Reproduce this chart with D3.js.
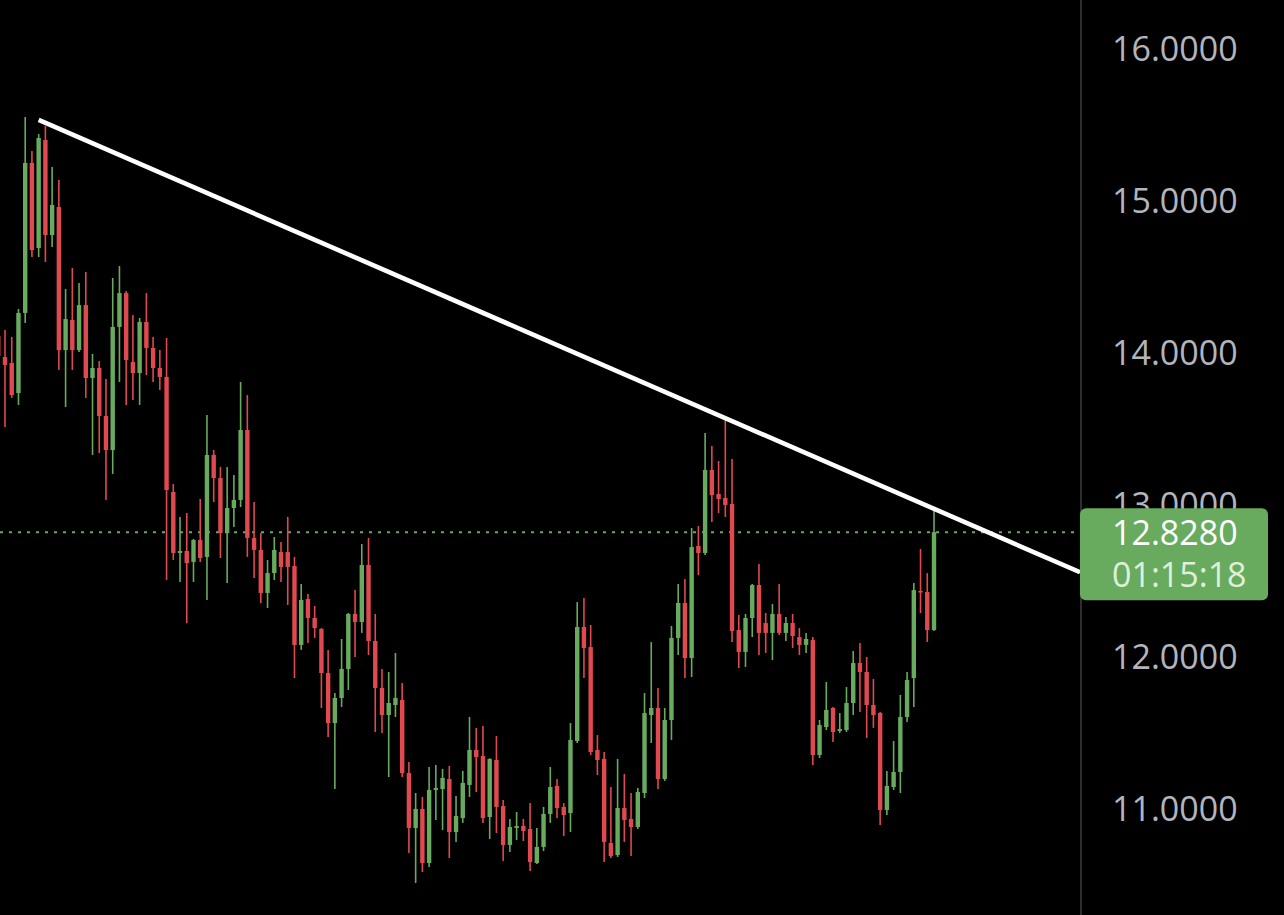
<!DOCTYPE html>
<html><head><meta charset="utf-8">
<script src="https://cdn.jsdelivr.net/npm/d3@7"></script>
<style>html,body{margin:0;padding:0;background:#000;overflow:hidden}</style>
</head><body>
<svg id="chart" width="1284" height="915"></svg>
<script>
const open = [14.118,13.980,13.941,13.743,14.270,15.257,14.697,15.408,14.783,14.967,14.026,14.224,14.026,14.322,13.842,13.908,13.592,13.368,14.178,14.401,13.947,13.875,14.211,14.040,13.908,13.849,13.092,12.691,12.704,12.632,12.776,12.665,13.336,13.184,12.822,12.987,13.040,13.500,12.790,12.711,12.428,12.559,12.697,12.697,12.605,12.086,12.388,12.263,12.191,11.901,11.572,11.737,11.928,12.290,12.237,12.612,12.112,11.803,11.625,11.691,11.724,11.243,10.882,11.007,10.651,11.132,11.138,11.204,10.855,10.947,11.165,11.395,11.355,10.954,11.329,11.026,10.770,10.882,10.895,10.875,10.651,10.757,10.974,11.158,11.020,10.980,11.454,12.204,12.072,11.395,11.336,10.783,10.704,11.013,10.941,10.888,11.112,11.625,11.671,11.204,11.592,12.132,12.362,12.000,12.737,12.691,13.237,13.079,13.053,13.013,12.184,12.040,12.263,12.480,12.230,12.165,12.290,12.165,12.230,12.138,12.086,12.118,11.362,11.546,11.671,11.520,11.526,11.704,11.967,11.908,11.691,11.638,11.000,11.151,11.250,11.612,11.868,12.441,12.434,12.184];
const high = [14.158,14.158,14.112,14.296,15.559,15.336,15.447,15.500,15.230,15.145,14.428,14.566,14.467,14.540,14.000,13.954,13.836,14.500,14.579,14.415,14.257,14.237,14.401,14.112,14.026,14.105,13.145,12.928,12.954,12.783,13.046,13.599,13.368,13.257,13.257,13.204,13.816,13.730,13.026,12.822,12.645,12.796,12.763,12.928,12.665,12.487,12.421,12.342,12.197,12.053,11.770,12.125,12.296,12.447,12.750,12.790,12.290,11.928,11.908,12.033,11.836,11.316,11.112,11.086,11.283,11.296,11.270,11.290,11.092,11.257,11.612,11.540,11.553,11.340,11.487,11.066,10.941,10.987,10.941,11.046,10.882,11.020,11.283,11.204,11.046,11.572,12.368,12.395,12.217,11.493,11.382,11.151,11.336,11.237,11.112,11.145,11.770,12.105,11.803,11.671,12.211,12.487,12.520,12.855,12.868,13.480,13.395,13.296,13.572,13.309,12.283,12.290,12.487,12.618,12.296,12.355,12.487,12.270,12.290,12.197,12.165,12.138,11.592,11.842,11.678,11.638,11.809,12.046,12.099,12.007,11.862,11.645,11.257,11.454,11.757,11.908,12.493,12.717,12.559,12.967];
const low = [13.882,13.520,13.711,13.665,14.204,14.638,14.638,14.605,14.704,13.895,13.651,13.895,14.013,13.711,13.336,13.349,13.040,13.211,13.816,13.665,13.697,13.665,13.862,13.816,13.763,12.513,12.645,12.500,12.230,12.500,12.632,12.382,13.026,12.658,12.493,12.862,12.993,12.665,12.526,12.362,12.329,12.513,12.500,12.349,11.868,12.053,12.099,12.132,11.671,11.480,11.138,11.678,11.790,12.007,12.165,12.020,11.513,11.507,11.217,11.612,11.217,10.717,10.520,10.592,10.625,10.934,10.868,10.684,10.790,10.915,11.086,11.118,10.915,10.809,10.849,10.665,10.724,10.803,10.796,10.599,10.645,10.730,10.915,10.947,10.829,10.855,11.441,11.868,11.362,11.230,10.658,10.684,10.691,10.790,10.697,10.875,11.079,11.441,11.138,11.191,11.461,12.020,11.868,11.875,12.546,12.678,12.895,12.954,12.928,12.105,11.934,11.941,12.138,12.020,12.033,11.987,12.151,12.112,12.066,12.020,12.033,11.296,11.342,11.526,11.447,11.507,11.513,11.625,11.645,11.474,11.540,10.901,10.967,11.132,11.112,11.579,11.678,12.296,12.105,12.178];
const close = [13.987,13.928,13.730,14.270,15.257,14.684,15.421,14.783,14.980,14.026,14.230,14.026,14.322,13.842,13.908,13.592,13.368,14.178,14.401,13.961,13.875,14.211,14.040,13.908,13.849,13.105,12.691,12.704,12.625,12.776,12.658,13.336,13.184,12.822,12.987,13.040,13.500,12.790,12.711,12.428,12.559,12.711,12.599,12.599,12.086,12.382,12.263,12.197,11.901,11.572,11.737,11.928,12.290,12.237,12.612,12.112,11.803,11.625,11.704,11.737,11.243,10.882,11.007,10.651,11.132,11.145,11.211,10.855,10.961,11.178,11.395,11.349,10.947,11.336,11.020,10.770,10.888,10.895,10.862,10.658,10.757,10.974,11.151,11.013,10.967,11.461,12.204,12.066,11.382,11.329,10.790,10.697,11.013,10.934,10.888,11.118,11.638,11.671,11.204,11.592,12.132,12.362,12.000,12.730,12.691,13.237,13.072,13.046,13.007,12.178,12.040,12.263,12.480,12.165,12.165,12.290,12.165,12.230,12.145,12.086,12.125,11.362,11.559,11.658,11.513,11.533,11.704,11.967,11.908,11.691,11.625,11.000,11.158,11.250,11.612,11.855,12.447,12.434,12.184,12.828];

const tickValues = [11, 12, 13, 14, 15, 16];
const tickLabels = ["11.0000", "12.0000", "13.0000", "14.0000", "15.0000", "16.0000"];
const trendAnchors = [{i: 6, p: 15.54}, {i: 108, p: 13.578}];
const lastPriceLabel = "12.8280";
const countdownLabel = "01:15:18";

const W = 1284, H = 915, plotRight = 1080;
const GREEN = "#68ab5e", RED = "#e0494f";
const FONT = "'Open Sans', sans-serif";
const svg = d3.select("#chart");
svg.append("rect").attr("width", W).attr("height", H).attr("fill", "#000");

const x = d3.scaleLinear().domain([1, 139]).range([5, 934]);
const y = d3.scaleLinear().domain([11, 16]).range([810, 50]);

const data = open.map((o, i) => ({i, o, h: high[i], l: low[i], c: close[i]}));

svg.append("defs").append("clipPath").attr("id", "plot")
  .append("rect").attr("x", 0).attr("y", 0).attr("width", plotRight).attr("height", H);
const plot = svg.append("g").attr("clip-path", "url(#plot)");

// last price dotted line
const last = close[close.length - 1];
plot.append("line")
  .attr("x1", 0).attr("x2", plotRight)
  .attr("y1", y(last)).attr("y2", y(last))
  .attr("stroke", GREEN).attr("stroke-width", 2).attr("stroke-dasharray", "3,6");

const bodyW = 4.4;
const g = plot.selectAll("g.candle").data(data).join("g").attr("class", "candle")
  .attr("fill", d => d.c >= d.o ? GREEN : RED)
  .attr("stroke", d => d.c >= d.o ? GREEN : RED);
g.append("line")
  .attr("x1", d => x(d.i)).attr("x2", d => x(d.i))
  .attr("y1", d => y(d.h)).attr("y2", d => y(d.l))
  .attr("stroke-width", 1.6);
g.append("rect")
  .attr("x", d => x(d.i) - bodyW / 2).attr("width", bodyW)
  .attr("y", d => y(Math.max(d.o, d.c)))
  .attr("height", d => Math.max(1.5, Math.abs(y(d.o) - y(d.c))))
  .attr("stroke", "none");

// trend line extended to the right edge
const [a, b] = trendAnchors;
const slope = (b.p - a.p) / (b.i - a.i);
const iEnd = x.invert(plotRight);
plot.append("line")
  .attr("x1", x(a.i)).attr("y1", y(a.p))
  .attr("x2", x(iEnd)).attr("y2", y(a.p + slope * (iEnd - a.i)))
  .attr("stroke", "#fff").attr("stroke-width", 4.6);

// axis separator
svg.append("line").attr("x1", 1081).attr("x2", 1081).attr("y1", 0).attr("y2", H)
  .attr("stroke", "#2e2e2e").attr("stroke-width", 2);

// y axis labels
const axis = d3.axisRight(y).tickValues(tickValues)
  .tickFormat((d, k) => tickLabels[k]).tickSize(0).tickPadding(0);
const ax = svg.append("g").attr("transform", "translate(1112,0)").call(axis);
ax.select(".domain").remove();
ax.selectAll("text").attr("fill", "#b3b5bc")
  .attr("font-family", FONT).attr("font-size", 34);

// last price label
const ly = y(last);
svg.append("rect").attr("x", 1080).attr("y", ly - 24).attr("width", 188).attr("height", 92)
  .attr("rx", 6).attr("fill", GREEN);
svg.append("text").attr("x", 1112).attr("y", ly + 1).attr("dy", "0.35em")
  .attr("fill", "#fff").attr("font-family", FONT).attr("font-size", 34)
  .text(lastPriceLabel);
svg.append("text").attr("x", 1112).attr("y", ly + 43).attr("dy", "0.35em")
  .attr("fill", "#dff0da").attr("font-family", FONT).attr("font-size", 34)
  .text(countdownLabel);
</script>
</body></html>
